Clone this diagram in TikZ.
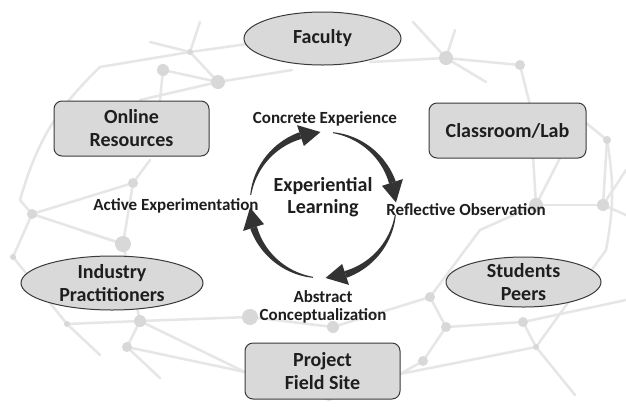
\documentclass[tikz,border=0pt]{standalone}
\usepackage{fontspec}
\setmainfont{Carlito}
\usetikzlibrary{shapes.geometric}

\definecolor{boxfill}{HTML}{D9D9D9}
\definecolor{boxline}{HTML}{3A3A3A}
\definecolor{ink}{HTML}{1E1E1E}
\definecolor{cyclefill}{HTML}{333333}
\definecolor{netline}{HTML}{E6E6E6}
\definecolor{netdot}{HTML}{D8D8D8}

\begin{document}
\begin{tikzpicture}[x=1pt,y=-1pt,
  nodetext/.style={font=\fontsize{20}{23}\selectfont\bfseries, text=ink, align=center, inner sep=0pt},
  boxnode/.style={nodetext, draw=boxline, fill=boxfill, line width=1pt, rounded corners=8pt,
                  minimum width=155pt, minimum height=55pt},
  ovalnode/.style={ellipse, draw=boxline, fill=boxfill, line width=1pt, inner sep=0pt},
  cyclabel/.style={font=\fontsize{17}{18}\selectfont\bfseries, text=ink, align=center, inner sep=0pt},
  netedge/.style={draw=netline, line width=2.5pt, line cap=round},
]
\fill[white] (0,0) rectangle (626,408);
\useasboundingbox (0,0) rectangle (626,408);

% ---- faint network in the background ----
\foreach \n/\x/\y in {
  n01/100/67, n02/190/52, n03/290/38, n04/163/70, n05/218/82,
  n06/200/22, n07/160/100, n08/292/70, n09/140/100, n10/150/42,
  n11/370/62, n12/413/22, n13/446/58, n14/455/30, n15/520/65,
  n16/486/82, n17/530/105, n18/536/205, n19/603/205, n20/607/140,
  n21/580/118, n22/626/170, n23/560/158, n24/20/200, n25/32/214,
  n26/133/183, n27/123/244, n28/13/257, n29/150/160, n30/80/230,
  n31/67/324, n32/140/321, n33/127/347, n34/250/317, n35/160/378,
  n36/245/372, n37/100/355, n38/333/327, n39/430/297, n40/446/327,
  n41/423/361, n42/523/322, n43/536/347, n44/400/374, n45/606/250,
  n46/626/300, n47/480/230, n48/575/395, n49/330/400, n50/626/215}
  {\coordinate (\n) at (\x,\y);}

\foreach \a/\b in {
  n01/n02, n02/n03, n02/n06, n02/n05, n04/n05, n04/n07, n05/n08, n05/n09, n02/n10,
  n11/n13, n12/n13, n14/n13, n13/n15, n13/n16, n15/n17, n17/n18, n18/n19, n19/n20,
  n20/n21, n19/n22, n18/n23, n21/n23, n19/n50,
  n24/n25, n25/n26, n25/n27, n25/n28, n26/n29, n26/n27, n27/n30, n27/n32,
  n28/n31, n31/n32, n32/n34, n32/n33, n33/n36, n33/n35, n32/n36, n31/n37,
  n34/n38, n38/n39, n39/n40, n40/n41, n41/n44, n40/n42, n42/n43, n43/n44,
  n43/n45, n42/n46, n39/n47, n47/n18, n43/n48, n36/n49}
  {\draw[netedge] (\a) -- (\b);}
\draw[netedge] (n01) to[bend right=15] (n24);
\draw[netedge] (n20) to[bend left=10] (n45);

\foreach \n/\r in {
  n02/3, n04/6, n05/7, n13/7, n15/5, n20/4, n18/7, n19/6, n25/5, n26/5, n27/8,
  n28/3, n31/3, n32/6, n33/5, n34/8, n38/6, n39/5, n40/5, n41/5, n42/5, n43/3}
  {\fill[netdot] (\n) circle[radius=\r pt];}

% ---- experiential learning cycle ----
\coordinate (cyc) at (323,205);
\begin{scope}[shift={(cyc)}, yscale=-1]
  \foreach \t in {172,82,-8,-98} {
    \pgfmathsetmacro{\tb}{\t-64}
    \pgfmathsetmacro{\tt}{\t-80}
    \fill[cyclefill]
      plot[domain=\t:\tb, samples=30, variable=\a] (\a:{73+0.5+3*(\t-\a)/64})
      -- plot[domain=\tb:\t, samples=30, variable=\a] (\a:{73-0.5-3*(\t-\a)/64})
      -- cycle;
    \fill[cyclefill] (\tb:62) -- (\tt:73) -- (\tb:84) -- cycle;
  }
\end{scope}

\node[nodetext, font=\fontsize{20}{22}\selectfont\bfseries] (el) at (323,197) {Experiential\\Learning};
\node[cyclabel, anchor=base] (ce) at (325,123) {Concrete Experience};
\node[cyclabel, anchor=base] (ro) at (466,215) {Reflective Observation};
\node[cyclabel, anchor=base] (ae) at (176,210) {Active Experimentation};
\node[cyclabel] (ac) at (323,307) {Abstract\\Conceptualization};

% ---- learning settings around the cycle ----
\node[ovalnode, minimum width=157pt, minimum height=53pt] (fac) at (322.5,38.5) {};
\node[nodetext] (factxt) at (fac) {Faculty};

\node[boxnode] (onl) at (131.5,128.5) {Online\\Resources};
\node[boxnode, minimum width=157pt] (cls) at (507.5,130.5) {Classroom/Lab};

\node[ovalnode, minimum width=182pt, minimum height=54pt] (ind) at (112,283) {};
\node[nodetext] (indtxt) at (ind) {Industry\\Practitioners};

\node[ovalnode, minimum width=155pt, minimum height=50pt] (stu) at (523.5,282) {};
\node[nodetext] (stutxt) at (stu) {Students\\Peers};

\node[boxnode, minimum height=56pt] (prj) at (322.5,371) {Project\\Field Site};
\end{tikzpicture}
\end{document}
